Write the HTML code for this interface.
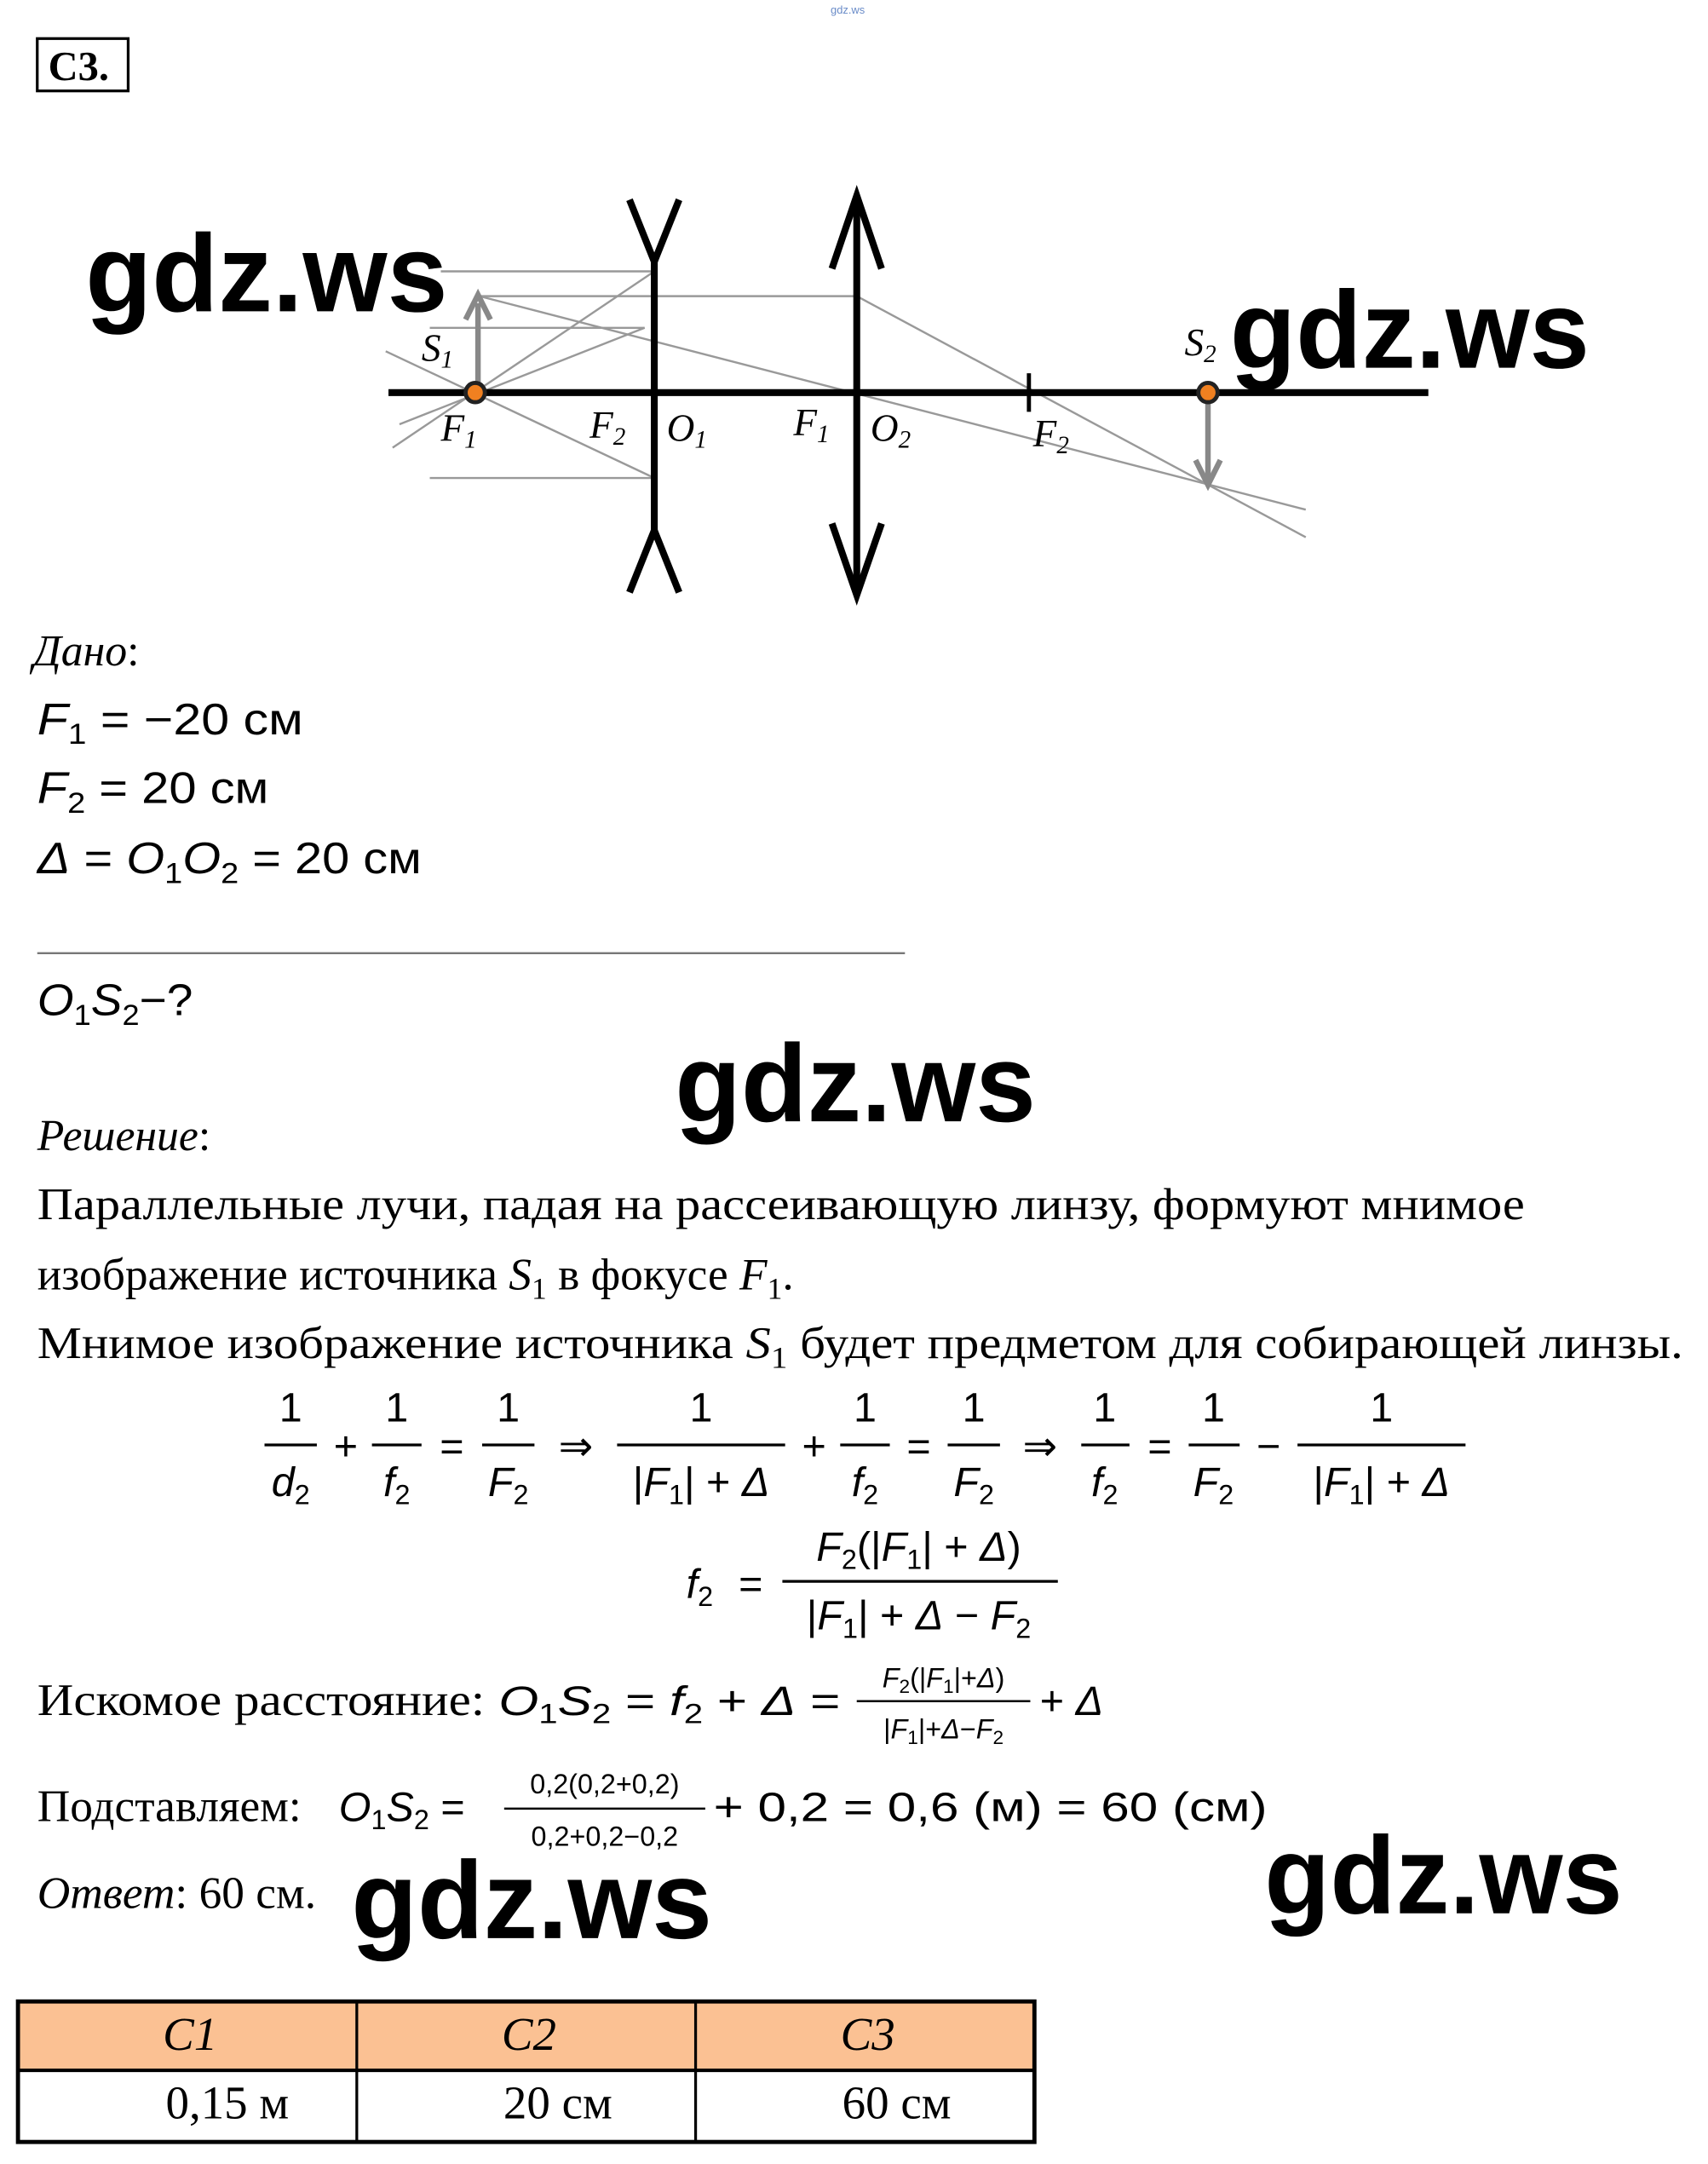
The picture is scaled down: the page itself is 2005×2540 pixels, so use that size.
<!DOCTYPE html>
<html><head><meta charset="utf-8"><style>
html,body{margin:0;padding:0;background:#fff;}
svg{display:block}
.s{font-family:"Liberation Serif",serif;}
.m{font-family:"Liberation Sans",sans-serif;}
.mi{font-family:"Liberation Serif",serif;font-style:italic;}
.w{font-family:"Liberation Sans",sans-serif;font-weight:bold;}
</style></head><body>
<svg width="2005" height="2540" viewBox="0 0 1240 1571" xmlns="http://www.w3.org/2000/svg">
<rect width="1240" height="1571" fill="#fff"/>
<text x="603" y="10" font-size="8" fill="#6a8cc8" class="m">gdz.ws</text>
<rect x="27" y="28" width="66" height="38" fill="none" stroke="#000" stroke-width="2"/>
<text x="35" y="58" font-size="30" font-weight="bold" class="s">С3.</text>

<g stroke="#999" stroke-width="1.5" fill="none">
<line x1="320" y1="197" x2="475" y2="197"/>
<line x1="348" y1="215" x2="622" y2="215"/>
<line x1="312" y1="238" x2="468" y2="238"/>
<line x1="312" y1="347" x2="475" y2="347"/>
<line x1="285" y1="325" x2="475" y2="197"/>
<line x1="290" y1="308" x2="468" y2="238"/>
<line x1="280" y1="255" x2="475" y2="347"/>
<line x1="348" y1="215" x2="948" y2="370"/>
<line x1="622" y1="215" x2="948" y2="390"/>
</g>
<line x1="282" y1="285" x2="1037" y2="285" stroke="#000" stroke-width="5"/>
<g stroke="#000" stroke-width="5" fill="none">
<line x1="475" y1="185" x2="475" y2="390"/>
<polyline points="457,145 475,190 493,145" />
<polyline points="457,430 475,385 493,430"/>
<line x1="622" y1="142" x2="622" y2="432"/>
<polyline points="604,195 622,142 640,195"/>
<polyline points="604,380 622,432 640,380"/>
</g>
<line x1="747" y1="271" x2="747" y2="299" stroke="#000" stroke-width="3"/>
<g stroke="#888" stroke-width="4" fill="none">
<line x1="347" y1="285" x2="347" y2="220"/>
<polyline points="338,232 347,214 356,232"/>
<line x1="877" y1="290" x2="877" y2="348"/>
<polyline points="868,334 877,352 886,334"/>
</g>
<circle cx="345" cy="285" r="7" fill="#f08020" stroke="#222" stroke-width="3"/>
<circle cx="877" cy="285" r="7" fill="#f08020" stroke="#222" stroke-width="3"/>
<g class="mi" font-size="28">
<text x="306" y="262">S<tspan font-size="18" dy="5">1</tspan></text>
<text x="320" y="320">F<tspan font-size="18" dy="5">1</tspan></text>
<text x="428" y="318">F<tspan font-size="18" dy="5">2</tspan></text>
<text x="484" y="320">O<tspan font-size="18" dy="5">1</tspan></text>
<text x="576" y="316">F<tspan font-size="18" dy="5">1</tspan></text>
<text x="632" y="320">O<tspan font-size="18" dy="5">2</tspan></text>
<text x="750" y="324">F<tspan font-size="18" dy="5">2</tspan></text>
<text x="860" y="258">S<tspan font-size="18" dy="5">2</tspan></text>
</g>

<g class="w" font-size="80">
<text x="62" y="226" textLength="263" lengthAdjust="spacingAndGlyphs">gdz.ws</text>
<text x="893" y="267" textLength="261" lengthAdjust="spacingAndGlyphs">gdz.ws</text>
<text x="490" y="814" textLength="262" lengthAdjust="spacingAndGlyphs">gdz.ws</text>
<text x="255" y="1407" textLength="262" lengthAdjust="spacingAndGlyphs">gdz.ws</text>
<text x="918" y="1389" textLength="260" lengthAdjust="spacingAndGlyphs">gdz.ws</text>
</g>

<text x="24" y="483" font-size="32" class="mi">Дано<tspan font-style="normal">:</tspan></text>
<g class="m" font-size="32">
<text x="27" y="533" textLength="193" lengthAdjust="spacingAndGlyphs"><tspan font-style="italic">F</tspan><tspan font-size="21" dy="7">1</tspan><tspan dy="-7"> = −20 см</tspan></text>
<text x="27" y="583" textLength="168" lengthAdjust="spacingAndGlyphs"><tspan font-style="italic">F</tspan><tspan font-size="21" dy="7">2</tspan><tspan dy="-7"> = 20 см</tspan></text>
<text x="27" y="634" textLength="279" lengthAdjust="spacingAndGlyphs"><tspan font-style="italic">Δ</tspan> = <tspan font-style="italic">O</tspan><tspan font-size="21" dy="7">1</tspan><tspan font-style="italic" dy="-7">O</tspan><tspan font-size="21" dy="7">2</tspan><tspan dy="-7"> = 20 см</tspan></text>
<text x="27" y="737" textLength="113" lengthAdjust="spacingAndGlyphs"><tspan font-style="italic">O</tspan><tspan font-size="21" dy="7">1</tspan><tspan font-style="italic" dy="-7">S</tspan><tspan font-size="21" dy="7">2</tspan><tspan dy="-7">−?</tspan></text>
</g>
<line x1="27" y1="692" x2="657" y2="692" stroke="#777" stroke-width="1.5"/>

<text x="27" y="835" font-size="32" class="mi">Решение<tspan font-style="normal">:</tspan></text>
<g class="s" font-size="33">
<text x="27" y="885" textLength="1080" lengthAdjust="spacingAndGlyphs">Параллельные лучи, падая на рассеивающую линзу, формуют мнимое</text>
<text x="27" y="936">изображение источника <tspan font-style="italic">S</tspan><tspan font-size="22" dy="7">1</tspan><tspan dy="-7"> в фокусе </tspan><tspan font-style="italic">F</tspan><tspan font-size="22" dy="7">1</tspan><tspan dy="-7">.</tspan></text>
<text x="27" y="986" textLength="1195" lengthAdjust="spacingAndGlyphs">Мнимое изображение источника <tspan font-style="italic">S</tspan><tspan font-size="22" dy="7">1</tspan><tspan dy="-7"> будет предметом для собирающей линзы.</tspan></text>
</g>

<g class="m" font-size="30" text-anchor="middle">
<g stroke="#000" stroke-width="2">
<line x1="192" y1="1049" x2="230" y2="1049"/>
<line x1="270" y1="1049" x2="306" y2="1049"/>
<line x1="350" y1="1049" x2="388" y2="1049"/>
<line x1="448" y1="1049" x2="570" y2="1049"/>
<line x1="610" y1="1049" x2="646" y2="1049"/>
<line x1="688" y1="1049" x2="726" y2="1049"/>
<line x1="785" y1="1049" x2="820" y2="1049"/>
<line x1="863" y1="1049" x2="900" y2="1049"/>
<line x1="942" y1="1049" x2="1064" y2="1049"/>
</g>
<text x="211" y="1032">1</text><text x="288" y="1032">1</text><text x="369" y="1032">1</text>
<text x="509" y="1032">1</text><text x="628" y="1032">1</text><text x="707" y="1032">1</text>
<text x="802" y="1032">1</text><text x="881" y="1032">1</text><text x="1003" y="1032">1</text>
<text x="211" y="1086" font-style="italic">d<tspan font-size="20" dy="6" font-style="normal">2</tspan></text>
<text x="288" y="1086" font-style="italic">f<tspan font-size="20" dy="6" font-style="normal">2</tspan></text>
<text x="369" y="1086" font-style="italic">F<tspan font-size="20" dy="6" font-style="normal">2</tspan></text>
<text x="509" y="1086">|<tspan font-style="italic">F</tspan><tspan font-size="20" dy="6">1</tspan><tspan dy="-6">| + </tspan><tspan font-style="italic">Δ</tspan></text>
<text x="628" y="1086" font-style="italic">f<tspan font-size="20" dy="6" font-style="normal">2</tspan></text>
<text x="707" y="1086" font-style="italic">F<tspan font-size="20" dy="6" font-style="normal">2</tspan></text>
<text x="802" y="1086" font-style="italic">f<tspan font-size="20" dy="6" font-style="normal">2</tspan></text>
<text x="881" y="1086" font-style="italic">F<tspan font-size="20" dy="6" font-style="normal">2</tspan></text>
<text x="1003" y="1086">|<tspan font-style="italic">F</tspan><tspan font-size="20" dy="6">1</tspan><tspan dy="-6">| + </tspan><tspan font-style="italic">Δ</tspan></text>
<text x="251" y="1060">+</text><text x="328" y="1060">=</text><text x="418" y="1060">⇒</text>
<text x="591" y="1060">+</text><text x="667" y="1060">=</text><text x="755" y="1060">⇒</text>
<text x="842" y="1060">=</text><text x="921" y="1060">−</text>
</g>

<g class="m" font-size="30" text-anchor="middle">
<text x="508" y="1160" font-style="italic">f<tspan font-size="20" dy="6" font-style="normal">2</tspan></text>
<text x="545" y="1160">=</text>
<line x1="568" y1="1148" x2="768" y2="1148" stroke="#000" stroke-width="2"/>
<text x="667" y="1133"><tspan font-style="italic">F</tspan><tspan font-size="20" dy="6">2</tspan><tspan dy="-6">(|</tspan><tspan font-style="italic">F</tspan><tspan font-size="20" dy="6">1</tspan><tspan dy="-6">| + </tspan><tspan font-style="italic">Δ</tspan>)</text>
<text x="667" y="1183">|<tspan font-style="italic">F</tspan><tspan font-size="20" dy="6">1</tspan><tspan dy="-6">| + </tspan><tspan font-style="italic">Δ</tspan> − <tspan font-style="italic">F</tspan><tspan font-size="20" dy="6">2</tspan></text>
</g>

<text x="27" y="1245" class="s" font-size="33" textLength="325" lengthAdjust="spacingAndGlyphs">Искомое расстояние:</text>
<g class="m" font-size="30">
<text x="362" y="1245" textLength="248" lengthAdjust="spacingAndGlyphs"><tspan font-style="italic">O</tspan><tspan font-size="20" dy="6">1</tspan><tspan font-style="italic" dy="-6">S</tspan><tspan font-size="20" dy="6">2</tspan><tspan dy="-6"> = </tspan><tspan font-style="italic">f</tspan><tspan font-size="20" dy="6">2</tspan><tspan dy="-6"> + </tspan><tspan font-style="italic">Δ</tspan> =</text>
<line x1="622" y1="1235" x2="748" y2="1235" stroke="#000" stroke-width="1.5"/>
<text x="685" y="1225" font-size="20" text-anchor="middle"><tspan font-style="italic">F</tspan><tspan font-size="14" dy="4">2</tspan><tspan dy="-4">(|</tspan><tspan font-style="italic">F</tspan><tspan font-size="14" dy="4">1</tspan><tspan dy="-4">|+</tspan><tspan font-style="italic">Δ</tspan>)</text>
<text x="685" y="1262" font-size="20" text-anchor="middle">|<tspan font-style="italic">F</tspan><tspan font-size="14" dy="4">1</tspan><tspan dy="-4">|+</tspan><tspan font-style="italic">Δ</tspan>−<tspan font-style="italic">F</tspan><tspan font-size="14" dy="4">2</tspan></text>
<text x="755" y="1245">+ <tspan font-style="italic">Δ</tspan></text>
</g>

<text x="27" y="1322" class="s" font-size="33">Подставляем:</text>
<g class="m" font-size="30">
<text x="246" y="1322"><tspan font-style="italic">O</tspan><tspan font-size="20" dy="6">1</tspan><tspan font-style="italic" dy="-6">S</tspan><tspan font-size="20" dy="6">2</tspan><tspan dy="-6"> =</tspan></text>
<line x1="366" y1="1313" x2="512" y2="1313" stroke="#000" stroke-width="1.5"/>
<text x="439" y="1302" font-size="20" text-anchor="middle">0,2(0,2+0,2)</text>
<text x="439" y="1340" font-size="20" text-anchor="middle">0,2+0,2−0,2</text>
<text x="518" y="1322" textLength="402" lengthAdjust="spacingAndGlyphs">+ 0,2 = 0,6 (м) = 60 (см)</text>
</g>

<text x="27" y="1385" class="s" font-size="33"><tspan font-style="italic">Ответ</tspan>: 60 см.</text>

<rect x="13" y="1453" width="738" height="50" fill="#fbc193"/>
<g stroke="#000" fill="none">
<rect x="13" y="1453" width="738" height="102" stroke-width="3"/>
<line x1="13" y1="1503" x2="751" y2="1503" stroke-width="2.5"/>
<line x1="259" y1="1453" x2="259" y2="1555" stroke-width="2"/>
<line x1="505" y1="1453" x2="505" y2="1555" stroke-width="2"/>
</g>
<g class="s" font-size="34" text-anchor="middle">
<text x="138" y="1488" font-style="italic">C1</text>
<text x="384" y="1488" font-style="italic">C2</text>
<text x="630" y="1488" font-style="italic">C3</text>
<text x="165" y="1538">0,15 м</text>
<text x="405" y="1538">20 см</text>
<text x="651" y="1538">60 см</text>
</g>
</svg>
</body></html>
